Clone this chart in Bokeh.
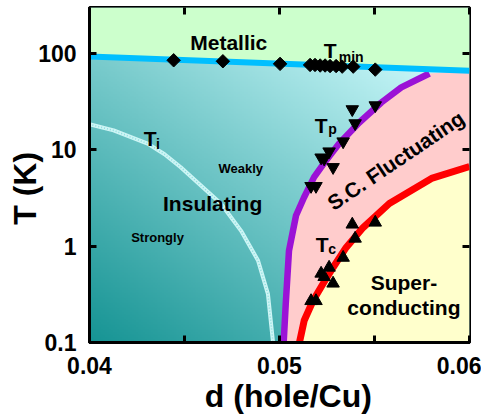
import numpy as np
from bokeh.plotting import figure
from bokeh.models import Range1d, FixedTicker, LinearAxis, LogAxis
from bokeh.models import Label
from bokeh.embed import file_html
from bokeh.resources import INLINE

# ---------------- data ----------------
x_ticks = [0.04, 0.045, 0.05, 0.055, 0.06]
x_tick_labels = ["0.04", "", "0.05", "", "0.06"]
y_ticks = [0.1, 1, 10, 100]
y_tick_labels = ["0.1", "1", "10", "100"]

# Tmin crossover (diamonds) and its boundary line
tmin_d = [0.04443, 0.04702, 0.05003, 0.05161, 0.05187, 0.05214, 0.0524, 0.05266,
          0.05298, 0.0533, 0.05388, 0.05504]
tmin_T = [85, 83, 78, 76, 76, 75, 75, 74, 74, 73, 73, 68]
tmin_line_d = [0.04, 0.06]
tmin_line_T = [93, 66]

# samples: Tp (down triangles) and Tc (up triangles)
sample_d = [0.05166, 0.05192, 0.05219, 0.05235, 0.05261, 0.05282, 0.05335, 0.05383,
            0.05398, 0.05504]
tp_T = [4.2, 4.2, 8.3, 8.1, 9.6, 6.6, 12.2, 26.3, 18.8, 28.9]
tc_T = [0.27, 0.27, 0.52, 0.48, 0.60, 0.41, 0.76, 1.68, 1.2, 1.76]

# Ti crossover line
ti_d = [0.0400, 0.04127, 0.04306, 0.04395, 0.0448, 0.04586, 0.04691, 0.04797, 0.04887,
        0.04939, 0.04966]
ti_T = [18.4, 15.9, 11.6, 9.0, 6.6, 4.27, 2.77, 1.45, 0.71, 0.32, 0.1]

# Tp boundary (purple)
tp_line_d = [0.05022, 0.05033, 0.0505, 0.05087, 0.05129, 0.05182, 0.05245, 0.05314,
             0.0542, 0.05536, 0.05641, 0.05789]
tp_line_T = [0.1, 0.254, 0.90, 2.08, 3.2, 5.2, 7.76, 11.6, 19.2, 31, 44.5, 62]

# Tc boundary (red)
tc_line_d = [0.05105, 0.0513, 0.05177, 0.0523, 0.05282, 0.05351, 0.0544, 0.05578, 0.058, 0.06]
tc_line_T = [0.1, 0.169, 0.273, 0.41, 0.60, 0.97, 1.56, 2.77, 5.05, 6.7]

X0, X1 = 0.04, 0.06
Y0, Y1 = 0.1, 300

FONT = "Liberation Sans"
NB = "\u00a0"

p = figure(frame_width=380, frame_height=335,
           x_range=Range1d(X0, X1), y_range=Range1d(Y0, Y1), y_axis_type="log",
           output_backend="svg", toolbar_location=None,
           min_border_left=89, min_border_right=12, min_border_top=7, min_border_bottom=76)
p.grid.visible = False
p.outline_line_color = "black"
p.outline_line_width = 3
p.background_fill_color = "white"
p.border_fill_color = "white"

# ---- gradient background of the insulating region ----
N = 200
U, V = np.meshgrid(np.linspace(0, 1, N), np.linspace(0, 1, N))
t = np.clip(0.45 * U / 0.9 + 0.55 * V / 0.87, 0, 1)
dark = np.array([22, 148, 148], dtype=float)
light = np.array([205, 250, 252], dtype=float)
rgb = dark + t[..., None] * (light - dark)
img = np.empty((N, N), dtype=np.uint32)
view = img.view(dtype=np.uint8).reshape((N, N, 4))
view[..., 0] = rgb[..., 0].astype(np.uint8)
view[..., 1] = rgb[..., 1].astype(np.uint8)
view[..., 2] = rgb[..., 2].astype(np.uint8)
view[..., 3] = 255
p.image_rgba(image=[img], x=X0, y=Y0, dw=X1 - X0, dh=Y1 - Y0)

# ---- region fills ----
p.patch([X0, X1, X1, X0], [tmin_line_T[0], tmin_line_T[1], Y1, Y1],
        fill_color="#ccffcc", line_color=None)
pink_x = tp_line_d + [X1] + tc_line_d[::-1]
pink_y = tp_line_T + [tmin_line_T[1]] + tc_line_T[::-1]
p.patch(pink_x, pink_y, fill_color="#ffcccc", line_color=None)
yel_x = tc_line_d + [X1]
yel_y = tc_line_T + [Y0]
p.patch(yel_x, yel_y, fill_color="#ffffcc", line_color=None)

# ---- lines ----
p.line(ti_d, ti_T, line_color="#cdf5f5", line_width=4, line_join="round")
p.line(ti_d, ti_T, line_color="#8ddede", line_width=1.5, line_dash="1 2", line_join="round")
p.line(tp_line_d, tp_line_T, line_color="#9b12d6", line_width=6.5, line_join="round")
p.line(tc_line_d, tc_line_T, line_color="#ff0000", line_width=7, line_join="round")
p.line(tmin_line_d, tmin_line_T, line_color="#00bfff", line_width=6)

# ---- markers ----
p.scatter(tmin_d, tmin_T, marker="square", angle=np.pi / 4, size=9.5,
          fill_color="black", line_color="black")
p.scatter(sample_d, tp_T, marker="inverted_triangle", size=12.5,
          fill_color="black", line_color="black")
p.scatter(sample_d, tc_T, marker="triangle", size=12.5,
          fill_color="black", line_color="black")

# ---- axes ----
xa = p.xaxis[0]
ya = p.yaxis[0]
xa.ticker = FixedTicker(ticks=x_ticks, minor_ticks=[])
xa.major_label_overrides = dict(zip(x_ticks, x_tick_labels))
ya.ticker = FixedTicker(ticks=y_ticks, minor_ticks=[])
ya.major_label_overrides = dict(zip(y_ticks, y_tick_labels))
for ax in (xa, ya):
    ax.axis_line_width = 3
    ax.major_tick_line_width = 3
    ax.major_tick_in = 7
    ax.major_tick_out = 0
    ax.minor_tick_line_color = None
    ax.major_label_text_font = FONT
    ax.major_label_text_font_style = "bold"
    ax.major_label_text_font_size = "23px"
    ax.major_label_text_color = "black"
    ax.axis_label_text_font = FONT
    ax.axis_label_text_font_style = "bold"
    ax.axis_label_text_font_size = "32px"
    ax.axis_label_text_color = "black"
xa.major_label_standoff = 14
ya.major_label_standoff = 13
xa.axis_label = NB * 2 + "d (hole/Cu)"
xa.axis_label_standoff = 1
ya.axis_label = "T (K)" + NB * 3
ya.axis_label_standoff = -8

top = LinearAxis(ticker=FixedTicker(ticks=x_ticks, minor_ticks=[]),
                 major_label_overrides={k: "" for k in x_ticks},
                 major_label_text_font_size="1px", major_label_standoff=0,
                 axis_line_color=None, major_tick_in=7, major_tick_out=0,
                 major_tick_line_width=3, minor_tick_line_color=None)
right = LogAxis(ticker=FixedTicker(ticks=y_ticks, minor_ticks=[]),
                major_label_overrides={k: "" for k in y_ticks},
                major_label_text_font_size="1px", major_label_standoff=0,
                axis_line_color=None, major_tick_in=7, major_tick_out=0,
                major_tick_line_width=3, minor_tick_line_color=None)
p.add_layout(top, "above")
p.add_layout(right, "right")


def lab(x, y, text, size, align="left", angle=0.0):
    p.add_layout(Label(x=x, y=y, text=text, angle=angle,
                       text_font=FONT, text_font_style="bold",
                       text_font_size=size, text_color="black",
                       text_align=align, text_baseline="alphabetic"))


lab(0.04733, 130, "Metallic", "21px", "center")
lab(0.05233, 108, "T", "21px")
lab(0.05312, 91.3, "min", "14px")
lab(0.05186, 17.9, "T", "21px")
lab(0.05257, 16.3, "p", "14px")
lab(0.04285, 13.1, "T", "21px")
lab(0.04350, 11.6, "i", "14px")
lab(0.05191, 1.04, "T", "21px")
lab(0.05257, 0.925, "c", "14px")
lab(0.04796, 6.41, "Weakly", "13px", "center")
lab(0.04648, 2.77, "Insulating", "21px", "center")
lab(0.04358, 1.23, "Strongly", "13px", "center")
lab(0.05655, 0.42, "Super-", "21px", "center")
lab(0.05655, 0.231, "conducting", "21px", "center")
lab(0.05612, 7.76, "S.C. Fluctuating", "21px", "center", angle=np.deg2rad(34))

open("out.html", "w").write(file_html(p, INLINE))
